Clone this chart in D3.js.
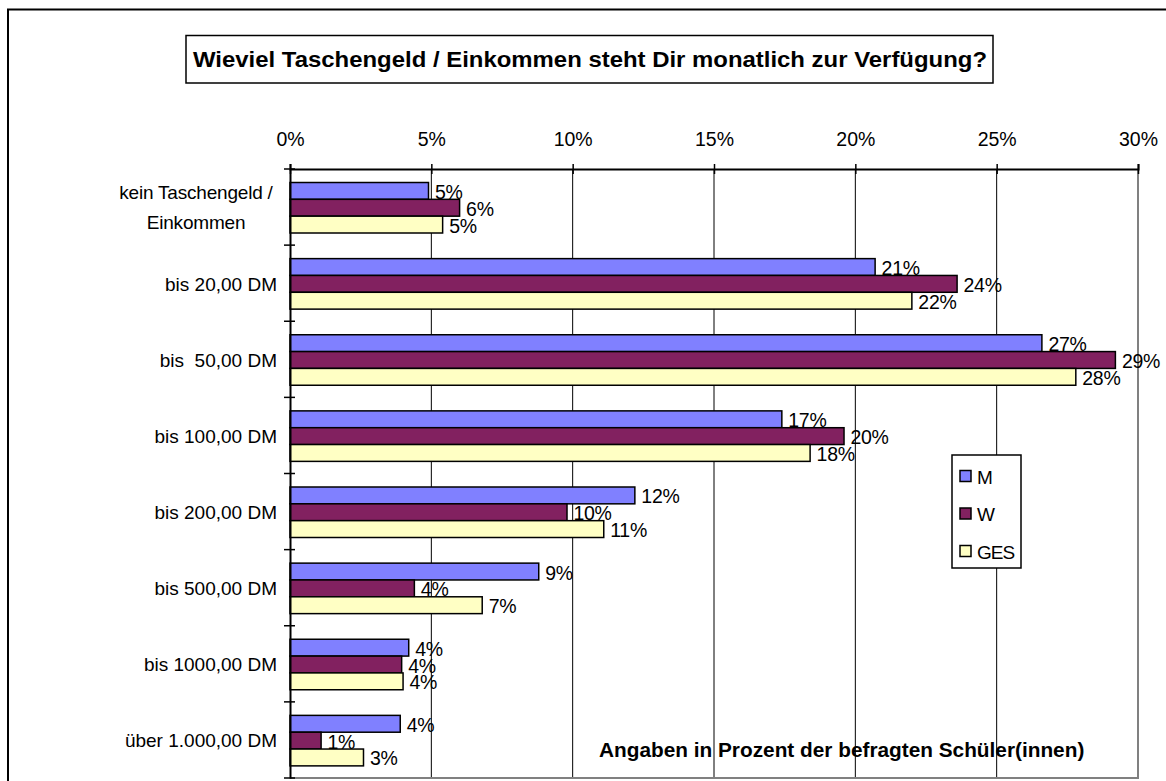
<!DOCTYPE html>
<html>
<head>
<meta charset="utf-8">
<script src="https://cdn.jsdelivr.net/npm/d3@7"></script>
<style>
	body { margin: 0; background: #fff; }
	svg text { font-family: "Liberation Sans", Arial, sans-serif; fill: #000; white-space: pre; }
</style>
</head>
<body>
<div id="chart"></div>
<script>
// data
var categories = ['kein Taschengeld /\nEinkommen', 'bis 20,00 DM', 'bis  50,00 DM', 'bis 100,00 DM',
	'bis 200,00 DM', 'bis 500,00 DM', 'bis 1000,00 DM', 'über 1.000,00 DM']
var seriesNames = ['M', 'W', 'GES']
var valuesM = [4.9, 20.7, 26.6, 17.4, 12.2, 8.8, 4.2, 3.9]
var valuesW = [6.0, 23.6, 29.2, 19.6, 9.8, 4.4, 3.95, 1.1]
var valuesGES = [5.4, 22.0, 27.8, 18.4, 11.1, 6.8, 4.0, 2.6]
var xTicks = [0, 5, 10, 15, 20, 25, 30]
var colors = ['#8080ff', '#822160', '#ffffc4']
var title = 'Wieviel Taschengeld / Einkommen steht Dir monatlich zur Verfügung?'
var note = 'Angaben in Prozent der befragten Schüler(innen)'

var width = 1166
var height = 781
var plot = { left: 290, right: 1138, top: 169, bottom: 778 }

var svg = d3.select('#chart').append('svg')
	.attr('width', width)
	.attr('height', height)

// outer frame, runs off the picture on the right and bottom
svg.append('rect')
	.attr('x', 8).attr('y', 9.5)
	.attr('width', 1200).attr('height', 800)
	.attr('fill', 'none').attr('stroke', '#000').attr('stroke-width', 2)

// title box
svg.append('rect')
	.attr('x', 186).attr('y', 35.5)
	.attr('width', 807).attr('height', 47.5)
	.attr('fill', '#fff').attr('stroke', '#000').attr('stroke-width', 1.5)

svg.append('text')
	.attr('x', 193).attr('y', 59.5)
	.attr('dominant-baseline', 'central')
	.attr('textLength', 794)
	.attr('lengthAdjust', 'spacingAndGlyphs')
	.style('font-size', '21.5px').style('font-weight', 'bold')
	.text(title)

var x = d3.scaleLinear().domain([0, 30]).range([plot.left, plot.right])
var y = d3.scaleBand().domain(categories).range([plot.top, plot.bottom])
var inner = d3.scaleBand().domain(seriesNames).range([13.5, 64])

// gridlines
svg.append('g').selectAll('line')
	.data(xTicks.slice(1, -1))
	.enter().append('line')
		.attr('x1', function(d) { return x(d) })
		.attr('x2', function(d) { return x(d) })
		.attr('y1', plot.top).attr('y2', plot.bottom)
		.attr('stroke', '#000').attr('stroke-width', 1)

// plot border on right and bottom
svg.append('path')
	.attr('d', 'M' + plot.left + ',' + plot.bottom + 'H' + plot.right + 'V' + plot.top)
	.attr('fill', 'none').attr('stroke', '#808080').attr('stroke-width', 2)

// bars and labels, series by series so later bars cover earlier labels
var allValues = [valuesM, valuesW, valuesGES]
seriesNames.forEach(function(name, s) {
	var g = svg.append('g').classed('series', true)
	var vals = allValues[s]
	g.selectAll('rect')
		.data(vals)
		.enter().append('rect')
			.attr('x', x(0))
			.attr('y', function(d, i) { return y(categories[i]) + inner(name) })
			.attr('width', function(d) { return x(d) - x(0) })
			.attr('height', inner.bandwidth())
			.attr('fill', colors[s])
			.attr('stroke', '#000').attr('stroke-width', 1.5)
	g.selectAll('text')
		.data(vals)
		.enter().append('text')
			.attr('x', function(d) { return x(d) + 6.5 })
			.attr('y', function(d, i) { return y(categories[i]) + inner(name) + inner.bandwidth() / 2 + 1 })
			.attr('dominant-baseline', 'central')
			.style('font-size', '19.5px').style('letter-spacing', '-0.3px')
			.text(function(d) { return Math.round(d) + '%' })
})

// top axis
var xAxis = d3.axisTop(x)
	.tickValues(xTicks)
	.tickFormat(function(d) { return d + '%' })
	.tickSize(5)
var gx = svg.append('g')
	.attr('transform', 'translate(0,' + plot.top + ')')
	.call(xAxis)
gx.select('.domain').attr('stroke-width', 2)
gx.selectAll('.tick line').attr('y1', 5).attr('stroke-width', 1.5)
gx.selectAll('.tick text')
	.attr('y', -30).attr('dy', '0.35em')
	.style('font-size', '19.5px')
gx.attr('font-size', null).attr('font-family', null)

// left axis with ticks between the categories
var yAxis = d3.axisLeft(y).tickSize(0).tickFormat('')
var gy = svg.append('g')
	.attr('transform', 'translate(' + plot.left + ',0)')
	.call(yAxis)
gy.select('.domain').attr('stroke-width', 2)

var edges = categories.map(function(c) { return y(c) }).concat([y.range()[1]])
gy.selectAll('.edge')
	.data(edges)
	.enter().append('line')
		.classed('edge', true)
		.attr('x1', -6).attr('x2', 5)
		.attr('y1', function(d) { return d }).attr('y2', function(d) { return d })
		.attr('stroke', '#000').attr('stroke-width', 1.5)

// category labels, multi-line ones are centred as a block
var lineHeight = 30
categories.forEach(function(c) {
	var lines = c.split('\n')
	var cy = y(c) + y.bandwidth() / 2
	var t = svg.append('text')
		.style('font-size', '19px')
		.attr('dominant-baseline', 'central')
	if (lines.length === 1) {
		t.attr('x', 277).attr('y', cy + 1).attr('text-anchor', 'end').text(c)
	} else {
		t.style('letter-spacing', '-0.2px')
		lines.forEach(function(l, i) {
			t.append('tspan')
				.attr('x', 196)
				.attr('y', cy + (i - (lines.length - 1) / 2) * lineHeight)
				.attr('text-anchor', 'middle')
				.text(l)
		})
	}
})

// legend
var legend = svg.append('g').attr('transform', 'translate(952,455)')
legend.append('rect')
	.attr('width', 69).attr('height', 113)
	.attr('fill', '#fff').attr('stroke', '#000').attr('stroke-width', 1.5)
var item = legend.selectAll('.item')
	.data(seriesNames)
	.enter().append('g')
		.classed('item', true)
		.attr('transform', function(d, i) { return 'translate(8,' + (21 + i * 37.5) + ')' })
item.append('rect')
	.attr('x', 0).attr('y', -5.5)
	.attr('width', 11).attr('height', 11)
	.attr('fill', function(d, i) { return colors[i] })
	.attr('stroke', '#000').attr('stroke-width', 1.5)
item.append('text')
	.attr('x', 17).attr('y', 1)
	.attr('dominant-baseline', 'central')
	.style('font-size', '19px').style('letter-spacing', '-1px')
	.text(function(d) { return d })

// note at the bottom
svg.append('text')
	.attr('x', 599).attr('y', 757)
	.style('font-size', '20.8px').style('font-weight', 'bold')
	.text(note)
</script>
</body>
</html>
